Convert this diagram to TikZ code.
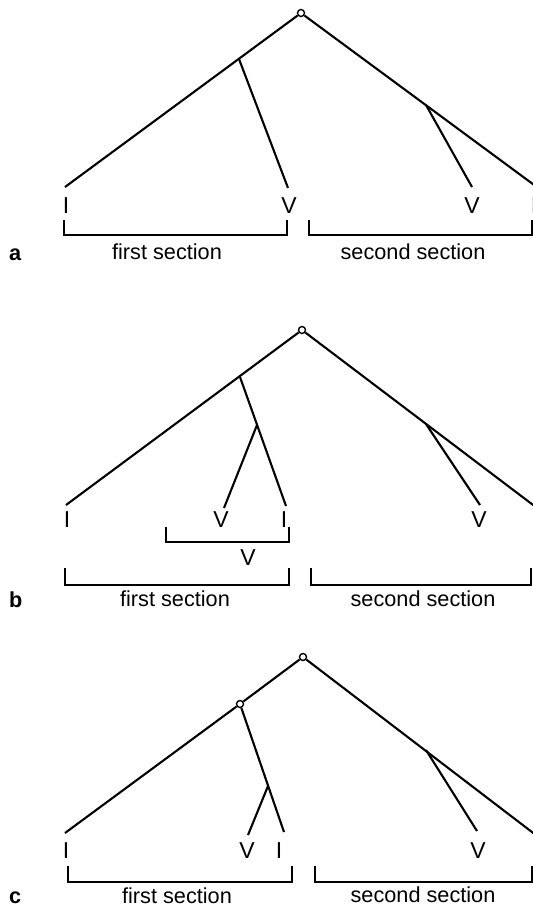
\documentclass[tikz,border=0pt]{standalone}
\usepackage{fontspec}
\setmainfont{Liberation Sans}
\begin{document}
\begin{tikzpicture}[x=1pt,y=-1pt,
  edge/.style={line width=2.1pt},
  brk/.style={line width=1.6pt},
  knot/.style={circle, draw, fill=white, line width=1.4pt, inner sep=0pt, minimum size=7pt},
  lab/.style={anchor=base, inner sep=0pt, font=\fontsize{23}{26}\selectfont},
  txt/.style={anchor=base, inner sep=0pt, font=\fontsize{21.7}{24}\selectfont},
  tag/.style={anchor=base west, inner sep=0pt, font=\fontsize{21.7}{24}\selectfont\bfseries}]
\useasboundingbox (0,0) rectangle (533,908);
\clip (0,0) rectangle (533,908);

% ---------------- panel a ----------------
\node[knot] (ra) at (301,13) {};
\coordinate (la) at (65,187);
\coordinate (pa) at (239,59);
\coordinate (va) at (288,188);
\coordinate (qa) at (426,105);
\coordinate (wa) at (472,187);
\coordinate (ea) at (545,193);
\draw[edge] (ra) -- (la);
\draw[edge] (ra) -- (ea);
\draw[edge] (pa) -- (va);
\draw[edge] (qa) -- (wa);
\node[lab] (a1) at (66,213) {I};
\node[lab] (a2) at (289,213) {V};
\node[lab] (a3) at (472,213) {V};
\node[lab] (a4) at (534,213) {I};
\draw[brk] (64,220) |- (287,235) -- (287,220);
\draw[brk] (309,220) |- (532,235) -- (532,220);
\node[txt] (fa) at (167,259) {first section};
\node[txt] (sa) at (413,259) {second section};
\node[tag] (ta) at (9,260) {a};

% ---------------- panel b ----------------
\node[knot] (rb) at (302,330) {};
\coordinate (lb) at (66,505);
\coordinate (pb) at (240,377);
\coordinate (ub) at (257,425);
\coordinate (vb) at (224,508);
\coordinate (ib) at (286,506);
\coordinate (qb) at (426,424);
\coordinate (wb) at (480,505);
\coordinate (eb) at (545,514);
\draw[edge] (rb) -- (lb);
\draw[edge] (rb) -- (eb);
\draw[edge] (pb) -- (ib);
\draw[edge] (ub) -- (vb);
\draw[edge] (qb) -- (wb);
\node[lab] (b1) at (67,527) {I};
\node[lab] (b2) at (221,527) {V};
\node[lab] (b3) at (284,527) {I};
\node[lab] (b4) at (479,527) {V};
\draw[brk] (166,527) |- (289,542) -- (289,527);
\node[lab] (b5) at (248,565) {V};
\draw[brk] (65,568) |- (289,585) -- (289,568);
\draw[brk] (311,568) |- (531,585) -- (531,568);
\node[txt] (fb) at (175,606) {first section};
\node[txt] (sb) at (423,606) {second section};
\node[tag] (tb) at (9,607) {b};

% ---------------- panel c ----------------
\node[knot] (rc) at (303,657) {};
\node[knot] (kc) at (240,704) {};
\coordinate (lc) at (65,833);
\coordinate (uc) at (268,786);
\coordinate (vc) at (248,835);
\coordinate (ic) at (284,832);
\coordinate (qc) at (426,750);
\coordinate (wc) at (477,831);
\coordinate (ec) at (545,842);
\draw[edge] (rc) -- (kc);
\draw[edge] (kc) -- (lc);
\draw[edge] (rc) -- (ec);
\draw[edge] (kc) -- (ic);
\draw[edge] (uc) -- (vc);
\draw[edge] (qc) -- (wc);
\node[lab] (c1) at (66,858) {I};
\node[lab] (c2) at (247,858) {V};
\node[lab] (c3) at (279,858) {I};
\node[lab] (c4) at (478,858) {V};
\draw[brk] (68,866) |- (292,882) -- (292,866);
\draw[brk] (315,866) |- (532,882) -- (532,866);
\node[txt] (fc) at (177,903) {first section};
\node[txt] (sc) at (423,902) {second section};
\node[tag] (tc) at (9,903) {c};
\end{tikzpicture}
\end{document}
